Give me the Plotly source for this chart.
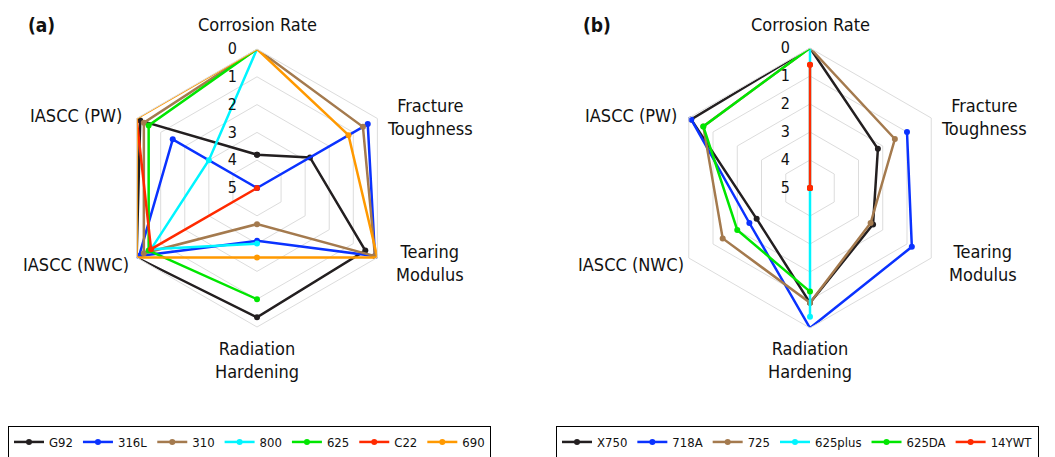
import plotly.graph_objects as go

# Radar axes (clockwise from the top)
categories = ["Corrosion Rate", "Fracture Toughness", "Tearing Modulus",
              "Radiation Hardening", "IASCC (NWC)", "IASCC (PW)"]
category_labels = ["Corrosion Rate", "Fracture<br>Toughness", "Tearing<br>Modulus",
                   "Radiation<br>Hardening", "IASCC (NWC)", "IASCC (PW)"]
radial_ticks = [0, 1, 2, 3, 4, 5]

# Panel (a) scores, 0 = best (outer ring), 5 = worst (centre); None = not plotted
alloys_a = ["G92", "316L", "310", "800", "625", "C22", "690"]
g92 = [3.8, 2.8, 0.5, 0.35, 0.0, 0.15]
ss316l = [5.0, 0.4, 0.1, 3.1, 0.1, 1.5]
ss310 = [0.0, 0.6, 0.1, 3.7, 0.3, 0.3]
in800 = [0.0, None, None, 3.0, 0.6, 3.0]
in625 = [0.0, None, None, 1.0, 0.5, 0.5]
c22 = [None, None, None, 5.0, 0.6, 0.0]
in690 = [0.0, 1.2, 0.0, 2.5, 0.0, 0.0]

# Panel (b) scores
alloys_b = ["X750", "718A", "725", "625plus", "625DA", "14YWT"]
x750 = [0.0, 2.2, 2.4, 0.9, 2.8, 0.1]
in718a = [None, 1.0, 0.8, 0.0, 2.5, 0.1]
in725 = [0.0, 1.5, 2.5, 0.9, 1.4, 0.6]
in625plus = [0.0, 5.0, 5.0, 0.4, 5.0, 5.0]
in625da = [0.0, None, None, 1.3, 2.0, 0.6]
ywt14 = [0.6, 5.0, 5.0, 5.0, 5.0, 5.0]

colors_a = ["#231f20", "#0a32ff", "#a47a4e", "#00f5ff", "#00e600", "#ff2a00", "#ff9900"]
colors_b = ["#231f20", "#0a32ff", "#a47a4e", "#00f5ff", "#00e600", "#ff2a00"]

FONT = "DejaVu Sans Condensed, DejaVu Sans, sans-serif"
TEXT = "#111111"

# the page body adds an 8px offset, so the figure is 8px smaller than the window
W, H, PAD = 1047, 449, 8


def fx(px):
    return (px - PAD) / W


def fy(py):
    return 1 - (py - PAD) / H


fig = go.Figure()


def add_series(names, series, colors, subplot, legend):
    for name, vals, col in zip(names, series, colors):
        # repeat the first point to close the polygon
        fig.add_trace(go.Scatterpolar(
            r=vals + vals[:1],
            theta=categories + categories[:1],
            mode="lines+markers",
            name=name,
            line=dict(color=col, width=2.5),
            marker=dict(color=col, size=6),
            connectgaps=False,
            subplot=subplot,
            legend=legend,
        ))


add_series(alloys_a, [g92, ss316l, ss310, in800, in625, c22, in690], colors_a, "polar", "legend")
add_series(alloys_b, [x750, in718a, in725, in625plus, in625da, ywt14], colors_b, "polar2", "legend2")

radial = dict(
    range=[5, 0],
    tickvals=radial_ticks,
    ticktext=[str(t) for t in radial_ticks],
    angle=90,
    side="counterclockwise",
    tickangle=90,
    showline=False,
    ticks="outside",
    ticklen=14,
    tickcolor="rgba(0,0,0,0)",
    gridcolor="#dcdcdc",
    gridwidth=1,
    tickfont=dict(size=16, color=TEXT, family=FONT),
)
angular = dict(
    direction="clockwise",
    rotation=90,
    showgrid=False,
    showticklabels=False,
    linecolor="#dcdcdc",
    linewidth=1,
    ticks="",
)

legend_style = dict(
    orientation="h",
    xanchor="left",
    yanchor="top",
    y=fy(426),
    bordercolor="#000000",
    borderwidth=1,
    bgcolor="white",
    font=dict(size=13, color=TEXT, family=FONT),
)


def polar_domain(cx, cy, rad):
    return dict(x=[fx(cx - rad), fx(cx + rad)], y=[fy(cy + rad), fy(cy - rad)])


# category label centres (window px) around each radar
label_pos_a = [(257, 25), (430, 117), (430, 263), (257, 360), (76, 264), (76, 115)]
label_pos_b = [(810, 25), (984, 117), (983, 263), (810, 360), (631, 264), (631, 115)]

annotations = []
for pos in (label_pos_a, label_pos_b):
    for text, (x, y) in zip(category_labels, pos):
        annotations.append(dict(
            text=text, x=fx(x), y=fy(y), xref="paper", yref="paper",
            xanchor="center", yanchor="middle", showarrow=False,
            font=dict(size=18, color=TEXT, family=FONT)))
for text, x in (("<b>(a)</b>", 41), ("<b>(b)</b>", 597)):
    annotations.append(dict(
        text=text, x=fx(x), y=fy(25), xref="paper", yref="paper",
        xanchor="center", yanchor="middle", showarrow=False,
        font=dict(size=19, color=TEXT, family=FONT)))

fig.update_layout(
    width=W,
    height=H,
    margin=dict(l=0, r=0, t=0, b=0, autoexpand=False),
    paper_bgcolor="white",
    font=dict(family=FONT),
    polar=dict(domain=polar_domain(257, 188, 139),
               gridshape="linear", bgcolor="white",
               radialaxis=radial, angularaxis=angular),
    polar2=dict(domain=polar_domain(810, 188, 140),
                gridshape="linear", bgcolor="white",
                radialaxis=radial, angularaxis=angular),
    legend=dict(x=fx(8), **legend_style),
    legend2=dict(x=fx(556), **legend_style),
    annotations=annotations,
)

fig.write_html("out.html")
